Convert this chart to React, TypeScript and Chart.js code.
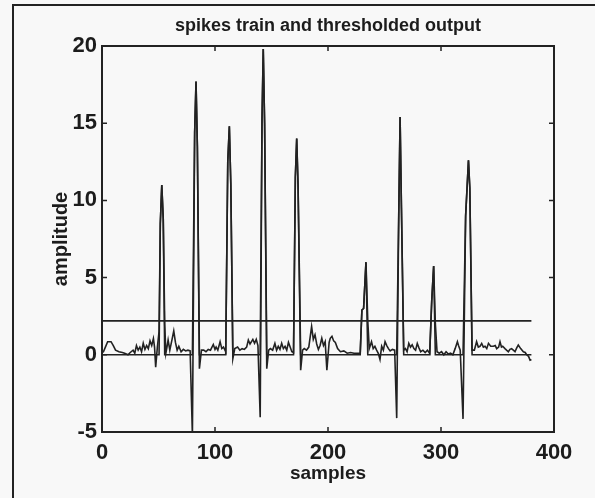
import React, { useEffect, useRef } from "react";
import { Chart, registerables } from "chart.js";

Chart.register(...registerables);

const TITLE = "spikes train and thresholded output";
const X_LABEL = "samples";
const Y_LABEL = "amplitude";
const X_TICKS = [0, 100, 200, 300, 400];
const Y_TICKS = [-5, 0, 5, 10, 15, 20];
const THRESHOLD = 2.2;
const THRESHOLD_X = [0, 380];

const SAMPLE_X = [
  1, 3, 5, 8, 10, 12, 15, 18, 20, 23, 25, 27.5, 29, 30.5, 32, 33.5, 35, 36.5, 38, 39.5,
  41, 42.5, 44, 45.5, 46.5, 47.5, 49, 50.5, 51.6, 52.9, 54.2, 55.5, 56.5, 57.5, 58.5, 60, 62, 63.5,
  65, 66.5, 68, 70, 72, 74, 76, 78, 80, 82, 83.2, 84.4, 86.2, 88, 90, 92, 94, 96, 98.5, 100,
  101, 102.5, 104.5, 106, 107.5, 109.5, 111.3, 112.7, 114, 115.8, 117.5, 120, 122, 124, 126,
  128, 129.5, 131, 133.5, 135, 136.5, 138, 140, 141.6, 142.7, 143.9, 145.8, 147.5, 149, 151,
  153, 154.5, 156, 157.5, 159, 160.5, 162, 163.5, 165, 166.5, 168, 169.5, 171.1, 172.3, 173.5,
  175.8, 177.5, 179, 181, 183, 185.5, 187, 188.5, 190, 191.5, 193, 194.5, 196, 197.5, 199, 201,
  202, 203.5, 205, 206.5, 208.5, 211, 214, 217, 220, 223, 226, 228.5, 230, 231.5, 233.6, 235.2,
  236.5, 238.5, 240, 241.5, 243, 244.5, 246, 247.5, 249, 250.5, 252, 253.5, 255, 257, 259,
  260.8, 262.6, 263.8, 265, 267, 268.5, 270, 271.5, 273, 274.5, 276, 277.5, 279, 280.5, 282,
  284, 286, 288, 290, 291.8, 293.5, 295, 296.5, 298.5, 300.5, 302.5, 304.5, 306.5, 308.5,
  310.5, 312.5, 314.5, 315.5, 317, 319.5, 321.8, 324.3, 325.5, 327.5, 329.5, 331.5, 333, 334.5,
  336, 337.5, 339, 340.5, 342, 344, 346.3, 348, 349.3, 351, 352.2, 353.5, 354.6, 356.6, 358,
  359.6, 361, 362.5, 364, 365.5, 367, 368.4, 370.5, 372.9, 374.5, 375.8, 377.5, 378.8, 380,
];

const AMPLITUDE = [
  0.15, 0.5, 0.85, 0.85, 0.6, 0.3, 0.2, 0.15, 0.1, 0.0, 0.15, 0.3, 0.1, 0.6, 0.3, 0.5, 0.2, 0.75, 0.35, 0.6,
  0.4, 0.9, 0.6, 1.05, 0.5, -0.8, 0.5, 1.5, 8.5, 11.0, 8.8, 2.0, 0.1, 0.5, 0.96, 0.3, 1.0, 1.55,
  0.8, 0.3, 0.55, 0.2, 0.35, 0.25, 0.3, 0.25, -5.2, 14.4, 17.7, 13.5, -0.9, 0.3, 0.3, 0.2, 0.35, 0.3, 0.67, 0.35,
  0.5, 0.3, 0.85, 0.4, 0.5, 0.2, 12.5, 14.8, 11.0, -0.25, 0.4, 0.5, 0.3, 0.4, 0.35,
  0.5, 0.96, 0.7, 1.0, 0.75, 1.0, 0.6, -4.05, 15.2, 19.8, 15.0, -0.9, 0.3, 0.4, 0.3,
  0.74, 0.3, 0.55, 0.35, 0.74, 0.4, 0.55, 0.3, 0.8, 0.5, 0.2, 0.15, 11.5, 14.0, 11.0,
  -1.0, 0.3, 0.4, 0.3, 0.5, 1.83, 1.0, 1.3, 0.7, 0.35, 0.6, 1.07, 0.6, 0.85, -1.0, 0.8,
  1.07, 1.2, 0.9, 0.8, 0.4, 0.2, 0.25, 0.1, 0.15, 0.1, 0.1, 0.1, 2.9, 3.0, 6.0, 2.2,
  0.4, 0.85, 0.4, 0.55, 0.3, 0.1, -0.3, 0.55, 0.3, 0.85, 0.6, 0.4, 0.25, 0.35, 0.3,
  -4.1, 9.0, 15.4, 9.5, 0.3, 0.4, 0.2, 0.74, 0.5, 0.65, 0.4, 0.3, 0.74, 0.45, 0.2,
  0.3, 0.15, 0.3, 0.1, 3.5, 5.75, 2.0, 0.2, 0.1, 0.2, 0.0, 0.2, 0.05, 0.1,
  0.0, 0.4, 0.85, 0.6, 0.3, -4.15, 9.0, 12.6, 10.8, 0.3, 0.3, 0.85, 0.5, 0.55,
  0.74, 0.5, 0.55, 0.4, 0.74, 0.55, 0.55, 0.6, 0.4, 0.5, 0.85, 0.5, 0.55, 0.4, 0.3,
  0.2, 0.35, 0.4, 0.3, 0.2, 0.45, 0.63, 0.4, 0.2, 0.15, 0.0, -0.1, -0.35, -0.3,
];

const INK = "#222222";
const FONT = '"Liberation Sans", Arial, sans-serif';

const framePlugin = {
  id: "frame",
  beforeDraw(chart: any) {
    const { ctx, width, height } = chart;
    ctx.save();
    ctx.fillStyle = "#f8f8f8";
    ctx.fillRect(0, 0, width, height);
    ctx.restore();
  },
  afterDraw(chart: any) {
    const { ctx, chartArea: a, scales } = chart;
    ctx.save();
    ctx.strokeStyle = INK;
    ctx.lineWidth = 2;
    ctx.strokeRect(a.left, a.top, a.right - a.left, a.bottom - a.top);
    ctx.lineWidth = 1.5;
    ctx.beginPath();
    X_TICKS.forEach((v) => {
      const px = scales.x.getPixelForValue(v);
      ctx.moveTo(px, a.bottom);
      ctx.lineTo(px, a.bottom - 5);
      ctx.moveTo(px, a.top);
      ctx.lineTo(px, a.top + 5);
    });
    Y_TICKS.forEach((v) => {
      const py = scales.y.getPixelForValue(v);
      ctx.moveTo(a.left, py);
      ctx.lineTo(a.left + 5, py);
      ctx.moveTo(a.right, py);
      ctx.lineTo(a.right - 5, py);
    });
    ctx.stroke();
    // outer frame of the scanned figure
    ctx.lineWidth = 2;
    ctx.beginPath();
    ctx.moveTo(13, 498);
    ctx.lineTo(13, 5);
    ctx.lineTo(595, 5);
    ctx.stroke();
    // title
    ctx.font = `bold 18px ${FONT}`;
    ctx.fillStyle = "#1c1c1c";
    ctx.textAlign = "center";
    ctx.textBaseline = "middle";
    ctx.fillText(TITLE, (a.left + a.right) / 2, 26);
    ctx.restore();
  },
};

export default function App() {
  const ref = useRef<HTMLCanvasElement | null>(null);

  useEffect(() => {
    if (!ref.current) return;
    const signal = SAMPLE_X.map((x, i) => ({ x, y: AMPLITUDE[i] }));
    const output = SAMPLE_X.map((x, i) => ({
      x,
      y: AMPLITUDE[i] > THRESHOLD ? AMPLITUDE[i] : 0,
    }));
    const thr = THRESHOLD_X.map((x) => ({ x, y: THRESHOLD }));
    const lineStyle = {
      borderColor: INK,
      borderWidth: 1.6,
      pointRadius: 0,
      tension: 0,
      fill: false,
    };
    const chart = new Chart(ref.current, {
      type: "line",
      data: {
        datasets: [
          { label: "signal", data: signal, ...lineStyle },
          { label: "thresholded output", data: output, ...lineStyle },
          { label: "threshold", data: thr, ...lineStyle },
        ],
      },
      plugins: [framePlugin],
      options: {
        animation: false,
        responsive: false,
        devicePixelRatio: 1,
        layout: { padding: { left: 0, top: 46, right: 41, bottom: 0 } },
        plugins: {
          legend: { display: false },
          tooltip: { enabled: false },
          title: { display: false },
        },
        scales: {
          x: {
            type: "linear",
            min: 0,
            max: 400,
            grid: { display: false, drawTicks: false },
            border: { display: false },
            afterBuildTicks: (s: any) => {
              s.ticks = X_TICKS.map((v) => ({ value: v }));
            },
            afterFit: (s: any) => {
              s.height = 66;
            },
            ticks: {
              autoSkip: false,
              maxRotation: 0,
              padding: 8,
              color: "#1c1c1c",
              font: { family: FONT, size: 22, weight: "bold" },
            },
            title: {
              display: true,
              text: X_LABEL,
              color: "#1c1c1c",
              padding: { top: 0, bottom: 13 },
              font: { family: FONT, size: 19, weight: "bold" },
            },
          },
          y: {
            type: "linear",
            min: -5,
            max: 20,
            grid: { display: false, drawTicks: false },
            border: { display: false },
            afterBuildTicks: (s: any) => {
              s.ticks = Y_TICKS.map((v) => ({ value: v }));
            },
            afterFit: (s: any) => {
              s.width = 102;
            },
            ticks: {
              autoSkip: false,
              padding: 5,
              color: "#1c1c1c",
              font: { family: FONT, size: 22, weight: "bold" },
            },
            title: {
              display: true,
              text: Y_LABEL,
              color: "#1c1c1c",
              padding: { top: 49, bottom: 0 },
              font: { family: FONT, size: 20, weight: "bold" },
            },
          },
        },
      },
    } as any);
    return () => chart.destroy();
  }, []);

  return (
    <div style={{ position: "fixed", left: 0, top: 0, width: 595, height: 498 }}>
      <canvas ref={ref} width={595} height={498} style={{ width: 595, height: 498 }} />
    </div>
  );
}
